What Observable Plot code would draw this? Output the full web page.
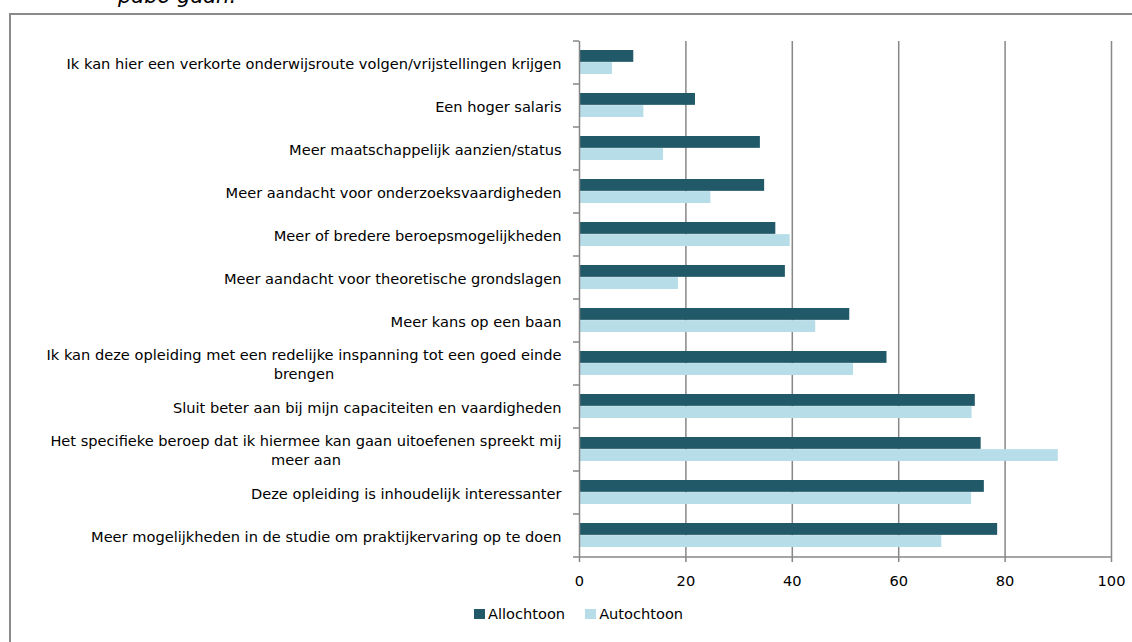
<!DOCTYPE html>
<html>
<head>
<meta charset="utf-8">
<script src="https://cdn.jsdelivr.net/npm/d3@7"></script>
<script src="https://cdn.jsdelivr.net/npm/@observablehq/plot@0.6"></script>
<style>
  html, body { margin: 0; background: #fff; overflow: hidden; }
  #wrap { position: relative; width: 1132px; height: 642px; overflow: hidden; background: #fff;
          font-family: "DejaVu Sans", sans-serif; color: #000; }
  #title { position: absolute; left: 118px; top: -14px; font-family: "DejaVu Sans", sans-serif;
           font-style: italic; font-size: 21px; line-height: 21px; white-space: nowrap; }
  .bline { position: absolute; background: #8a8a8a; }
  #hline { left: 9px; top: 13px; width: 1123px; height: 2px; }
  #vline { left: 9px; top: 13px; width: 2px; height: 629px; }
  #chart { position: absolute; left: 0; top: 0; }
  #legend { position: absolute; left: 474px; top: 604px; display: flex; align-items: center; font-size: 14.6px; line-height: 20px; }
  .sw { width: 11px; height: 10px; display: inline-block; margin-right: 3px; }
  .item { display: flex; align-items: center; margin-right: 20px; }
</style>
</head>
<body>
<div id="wrap">
  <div id="title">pabo gaan.</div>
  <div id="hline" class="bline"></div>
  <div id="vline" class="bline"></div>
  <div id="chart"></div>
  <div id="legend"></div>
</div>
<script>
// ---- data ----
const categories = [
  "Ik kan hier een verkorte onderwijsroute volgen/vrijstellingen krijgen",
  "Een hoger salaris",
  "Meer maatschappelijk aanzien/status",
  "Meer aandacht voor onderzoeksvaardigheden",
  "Meer of bredere beroepsmogelijkheden",
  "Meer aandacht voor theoretische grondslagen",
  "Meer kans op een baan",
  "Ik kan deze opleiding met een redelijke inspanning tot een goed einde\nbrengen",
  "Sluit beter aan bij mijn capaciteiten en vaardigheden",
  "Het specifieke beroep dat ik hiermee kan gaan uitoefenen spreekt mij\nmeer aan",
  "Deze opleiding is inhoudelijk interessanter",
  "Meer mogelijkheden in de studie om praktijkervaring op te doen"
];
const allochtoon = [10.2, 21.8, 34.0, 34.8, 36.9, 38.7, 50.8, 57.8, 74.4, 75.5, 76.1, 78.6];
const autochtoon = [6.2, 12.1, 15.8, 24.7, 39.6, 18.6, 44.4, 51.5, 73.8, 90.0, 73.7, 68.1];
const seriesNames = ["Allochtoon", "Autochtoon"];
const xTicks = [0, 20, 40, 60, 80, 100];
const colors = ["#215968", "#b7dee8"];

// ---- layout ----
const W = 1132, H = 600;
const mTop = 41, mBottom = 43, mLeft = 579, mRight = 21;
const pInner = 0.435;
const step = (H - mTop - mBottom) / categories.length;
const bandwidth = step * (1 - pInner);
const half = bandwidth / 2;
const gridColor = "#878787";
const fontFamily = '"DejaVu Sans", sans-serif';
const fontSize = 14.6;
const labelGap = 18;

const rows = categories.map((c, i) => ({category: c, allo: allochtoon[i], auto: autochtoon[i]}));

// measure label block widths with an SVG text of same style
const ns = "http://www.w3.org/2000/svg";
const msvg = document.createElementNS(ns, "svg");
msvg.setAttribute("width", 10); msvg.setAttribute("height", 10);
msvg.style.position = "absolute"; msvg.style.left = "0"; msvg.style.top = "0"; msvg.style.visibility = "hidden";
document.getElementById("wrap").appendChild(msvg);
const mt = document.createElementNS(ns, "text");
mt.setAttribute("font-family", fontFamily);
mt.setAttribute("font-size", fontSize);
msvg.appendChild(mt);
function blockWidth(label) {
  return Math.max(...label.split("\n").map(line => { mt.textContent = line; return mt.getComputedTextLength(); }));
}
const widths = categories.map(blockWidth);
msvg.remove();

const labelMarks = categories.map((c, i) => Plot.text([c], {
  x: 0, y: d => d, text: d => d,
  textAnchor: "middle", lineHeight: 1.31,
  dx: -(labelGap + widths[i] / 2),
  fill: "#000", fontSize
}));

const plot = Plot.plot({
  width: W, height: H,
  marginTop: mTop, marginBottom: mBottom, marginLeft: mLeft, marginRight: mRight,
  style: {fontFamily, fontSize: fontSize + "px", color: "#000", background: "transparent"},
  x: {domain: [0, 100], ticks: xTicks, tickSize: 0, tickPadding: 18, tickFormat: d => String(d), label: null},
  y: {domain: categories, paddingInner: pInner, paddingOuter: pInner / 2, axis: null},
  marks: [
    Plot.ruleX(xTicks.filter(v => v > 0), {stroke: gridColor, strokeWidth: 1.5, insetBottom: -5}),
    Plot.barX(rows, {y: "category", x: "allo", fill: colors[0], insetBottom: half}),
    Plot.barX(rows, {y: "category", x: "auto", fill: colors[1], insetTop: half}),
    Plot.ruleX([0], {stroke: gridColor, strokeWidth: 1.5, insetBottom: -5}),
    Plot.ruleY(categories, {y: d => d, dy: -step / 2, x1: 0, x2: 0, insetLeft: -6, stroke: gridColor, strokeWidth: 1.5}),
    Plot.ruleY(categories.slice(-1), {y: d => d, dy: step / 2, x1: 0, x2: 100, insetLeft: -6, stroke: gridColor, strokeWidth: 1.5}),
    ...labelMarks
  ]
});
document.getElementById("chart").appendChild(plot);

// legend
const legend = document.getElementById("legend");
seriesNames.forEach((name, i) => {
  const item = document.createElement("div");
  item.className = "item";
  const sw = document.createElement("span");
  sw.className = "sw"; sw.style.background = colors[i];
  const tx = document.createElement("span");
  tx.textContent = name;
  item.appendChild(sw); item.appendChild(tx);
  legend.appendChild(item);
});
</script>
</body>
</html>
